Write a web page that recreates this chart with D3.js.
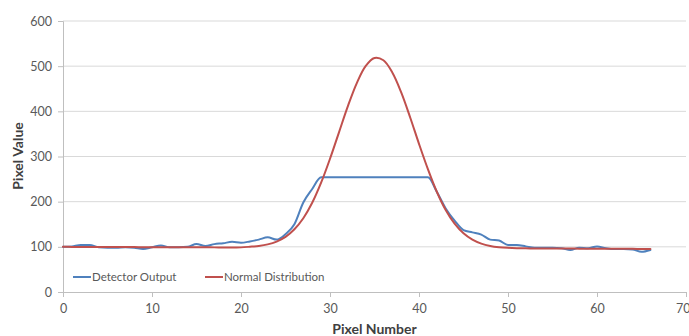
<!DOCTYPE html>
<html><head><meta charset="utf-8">
<script src="https://cdn.jsdelivr.net/npm/d3@7"></script>
<style>
html,body{margin:0;padding:0;background:#fff;}
svg{display:block;}
text{font-family:Lato,"Open Sans",sans-serif;}
</style></head>
<body>
<svg id="c" width="689" height="336"></svg>
<script>
const pixelNumbers = d3.range(0, 67);
const detectorOutput = [100,101,104,104,99,98,98,99,98,95,
  99,103,99,99,100,106,102,106,108,111,
  109,112,116,121,116,128,150,198,228,254,
  254,254,254,254,254,254,254,254,254,254,
  254,254,222,185,158,137,132,127,116,114,
  104,104,101,98,98,98,97,93,98,97,
  101,97,95,95,94,89,93];
const normalDistribution = [100,99.9,99.8,99.8,99.7,99.6,99.5,99.5,99.4,99.3,
  99.3,99.2,99.1,99.1,99,99,98.9,98.8,98.8,98.7,
  98.8,100.2,102,105.4,111.6,122,138.8,163.4,197.5,242,
  295,353,411,462,500,518,513,486,442,387,
  328,272,222,181.6,151.2,129.9,115.8,107.1,102,99.2,
  97.7,96.9,96.6,96.5,96.4,96.3,96.2,96.1,96,95.9,
  95.8,95.7,95.6,95.5,95.5,95.4,95.3];
const xTicks = [0,10,20,30,40,50,60,70];
const yTicks = [0,100,200,300,400,500,600];
const seriesNames = ["Detector Output","Normal Distribution"];
const seriesColors = ["#4f81bd","#c0504d"];

const svg = d3.select("#c");
const L = 63, R = 686, T = 21, B = 292;
const x = d3.scaleLinear().domain([0,70]).range([L,R]);
const y = d3.scaleLinear().domain([0,600]).range([B,T]);

// gridlines
svg.append("g").selectAll("line").data(yTicks.filter(d=>d>0)).join("line")
  .attr("x1",L).attr("x2",R).attr("y1",d=>y(d)).attr("y2",d=>y(d))
  .attr("stroke","#d9d9d9").attr("stroke-width",1);

// y axis
const ya = svg.append("g").attr("transform",`translate(${L},0)`)
  .call(d3.axisLeft(y).tickValues(yTicks).tickSize(5).tickPadding(6));
ya.select(".domain").attr("stroke","#bfbfbf");
ya.selectAll(".tick line").attr("stroke","#bfbfbf");
ya.selectAll("text").attr("fill","#595959").style("font-size","12.5px");

// x axis
const xa = svg.append("g").attr("transform",`translate(0,${B})`)
  .call(d3.axisBottom(x).tickValues(xTicks).tickSize(5).tickPadding(7));
xa.select(".domain").attr("stroke","#bfbfbf");
xa.selectAll(".tick line").attr("stroke","#bfbfbf");
xa.selectAll("text").attr("fill","#595959").style("font-size","12.5px");
xa.selectAll(".tick").filter(d=>d===70).select("text").attr("text-anchor","end").attr("dx","4");

// lines
const curves = [d3.curveMonotoneX, d3.curveCatmullRom.alpha(0.5)];
[detectorOutput, normalDistribution].forEach((s,k)=>{
  const line = d3.line().x((d,i)=>x(pixelNumbers[i])).y(d=>y(d)).curve(curves[k]);
  svg.append("path").datum(s).attr("d",line).attr("fill","none")
    .attr("stroke",seriesColors[k]).attr("stroke-width",2)
    .attr("stroke-linejoin","round").attr("stroke-linecap","round");
});

// legend
const lg = svg.append("g");
const legX = [73, 205];
seriesNames.forEach((n,k)=>{
  lg.append("line").attr("x1",legX[k]).attr("x2",legX[k]+18).attr("y1",277).attr("y2",277)
    .attr("stroke",seriesColors[k]).attr("stroke-width",2);
  lg.append("text").attr("x",legX[k]+19).attr("y",281).text(n)
    .attr("fill","#595959").style("font-size","11.5px");
});

// axis titles
svg.append("text").attr("x",(L+R)/2).attr("y",334).attr("text-anchor","middle")
  .style("font-size","14px").style("font-weight","bold").attr("fill","#404040").text("Pixel Number");
svg.append("text").attr("transform","translate(23,156) rotate(-90)").attr("text-anchor","middle")
  .style("font-size","14px").style("font-weight","bold").attr("fill","#404040").text("Pixel Value");
</script>
</body></html>
